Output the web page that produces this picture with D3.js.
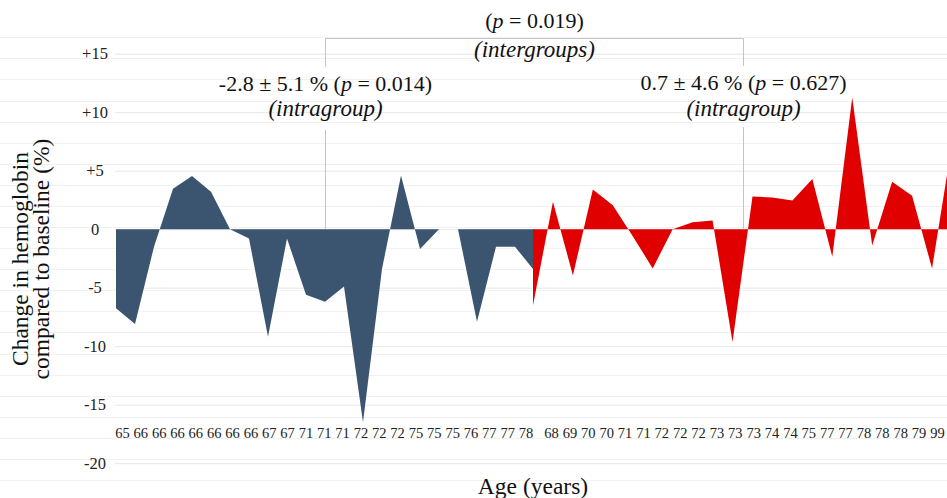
<!DOCTYPE html>
<html>
<head>
<meta charset="utf-8">
<script src="https://cdn.jsdelivr.net/npm/d3@7"></script>
<style>
    body { margin: 0; background: #fff; }
    svg { display: block; }
    svg text { font-family: "Liberation Serif", "DejaVu Serif", serif; }
</style>
</head>
<body>
<svg width="947" height="498"></svg>
<script>
// values (% change vs baseline)
const groupA = [-6.75, -8.1, -1.5, 3.45, 4.55, 3.2, 0, -0.8, -9.2, -0.8, -5.6, -6.2, -4.9, -16.5, -3.4, 4.6, -1.7, 0, 0, -7.9, -1.5, -1.5, -3.5];
const groupB = [-6.5, 2.35, -3.95, 3.4, 2.05, -0.6, -3.35, 0, 0.6, 0.75, -9.65, 2.8, 2.7, 2.45, 4.3, -2.35, 11.25, -1.4, 4.05, 2.85, -3.35, 7.3];

const agesA = ["65", "66", "66", "66", "66", "66", "66", "66", "67", "67", "71", "71", "71", "72", "72", "72", "75", "75", "75", "76", "77", "77", "78"];
const agesB = ["68", "69", "70", "70", "71", "71", "72", "72", "72", "73", "73", "73", "74", "74", "75", "77", "77", "78", "78", "78", "79", "99"];

const yTicks = [15, 10, 5, 0, -5, -10, -15, -20];

const annotA = ["-2.8 ± 5.1 % (", "p", " = 0.014)"];
const annotB = ["0.7 ± 4.6 % (", "p", " = 0.627)"];
const annotInter = ["(", "p", " = 0.019)"];

function drawChart() {
    var svg = d3.select("svg");
    var width = +svg.attr("width");

    var y = d3.scaleLinear().domain([-20, 15]).range([463.2, 53.7]);
    var xA = d3.scaleLinear().domain([0, groupA.length - 1]).range([116, 534]);
    var xB = d3.scaleLinear().domain([0, groupB.length - 1]).range([533, 952]);
    var labA = d3.scaleLinear().domain([0, agesA.length - 1]).range([122.5, 526]);
    var labB = d3.scaleLinear().domain([0, agesB.length - 1]).range([551.5, 937.5]);

    // faint background rules across the whole plot
    var minor = d3.scaleLinear().domain([0, 21]).range([37.3, 480]);
    svg.append("g")
        .selectAll("line")
        .data(d3.range(22))
        .join("line")
        .attr("x1", 0)
        .attr("x2", width)
        .attr("y1", d => Math.round(minor(d)) + 0.5)
        .attr("y2", d => Math.round(minor(d)) + 0.5)
        .attr("stroke", "#f1f1f1");

    const yAxis = svg.append("g")
        .attr("transform", "translate(115,0)")
        .call(d3.axisRight(y).tickValues(yTicks).tickSize(width - 115).tickFormat(""));
    yAxis.select(".domain").remove();
    yAxis.selectAll(".tick line").attr("stroke", "#e6e6e6");

    svg.append("g")
        .selectAll("text")
        .data(yTicks)
        .join("text")
        .attr("x", 95)
        .attr("y", d => y(d) + 5.5)
        .attr("text-anchor", "middle")
        .attr("font-size", 16.5)
        .attr("fill", "#222")
        .text(d => d > 0 ? "+" + d : d);

    const areaA = d3.area().x((d, i) => xA(i)).y0(y(0)).y1(d => y(d));
    const areaB = d3.area().x((d, i) => xB(i)).y0(y(0)).y1(d => y(d));

    svg.append("path").datum(groupA).attr("d", areaA).attr("fill", "#3b5470");
    svg.append("path").datum(groupB).attr("d", areaB).attr("fill", "#e10000");

    // age labels
    svg.append("g")
        .selectAll("text")
        .data(agesA)
        .join("text")
        .attr("x", (d, i) => labA(i))
        .attr("y", 438)
        .attr("text-anchor", "middle")
        .attr("font-size", 14.5)
        .attr("fill", "#222")
        .text(d => d);

    svg.append("g")
        .selectAll("text")
        .data(agesB)
        .join("text")
        .attr("x", (d, i) => labB(i))
        .attr("y", 438)
        .attr("text-anchor", "middle")
        .attr("font-size", 14.5)
        .attr("fill", "#222")
        .text(d => d);

    // bracket and leader lines
    var ax = Math.round(xA(11)) + 0.5;
    var bx = Math.round(xB(10.5)) + 0.5;
    const lines = svg.append("g").attr("stroke", "#c4c4c4").attr("fill", "none");
    lines.append("path").attr("d", `M${ax},67V38.5H${bx}V66`);
    lines.append("line").attr("x1", ax).attr("x2", ax).attr("y1", 130).attr("y2", y(0));
    lines.append("line").attr("x1", bx).attr("x2", bx).attr("y1", 127).attr("y2", y(0));

    function statLabel(parts, x, yPos) {
        const t = svg.append("text")
            .attr("x", x)
            .attr("y", yPos)
            .attr("text-anchor", "middle")
            .attr("font-size", 22)
            .attr("fill", "#111");
        t.append("tspan").text(parts[0]);
        t.append("tspan").attr("font-style", "italic").text(parts[1]);
        t.append("tspan").text(parts[2]);
    }

    function italicLabel(txt, x, yPos) {
        svg.append("text")
            .attr("x", x)
            .attr("y", yPos)
            .attr("text-anchor", "middle")
            .attr("font-size", 23)
            .attr("font-style", "italic")
            .attr("fill", "#111")
            .text(txt);
    }

    statLabel(annotInter, (ax + bx) / 2, 28);
    italicLabel("(intergroups)", (ax + bx) / 2, 57);
    statLabel(annotA, ax, 91);
    italicLabel("(intragroup)", ax, 116);
    statLabel(annotB, bx, 90);
    italicLabel("(intragroup)", bx, 116);

    // axis titles
    const yTitle = svg.append("text")
        .attr("transform", "translate(0,259) rotate(-90)")
        .attr("text-anchor", "middle")
        .attr("font-size", 23.5)
        .attr("fill", "#111");
    yTitle.append("tspan").attr("x", 0).attr("y", 28).text("Change in hemoglobin");
    yTitle.append("tspan").attr("x", 0).attr("y", 49).text("compared to baseline (%)");

    svg.append("text")
        .attr("x", 533)
        .attr("y", 494)
        .attr("text-anchor", "middle")
        .attr("font-size", 23.5)
        .attr("fill", "#111")
        .text("Age (years)");
}

window.onload = () => {
    drawChart();
};
</script>
</body>
</html>
